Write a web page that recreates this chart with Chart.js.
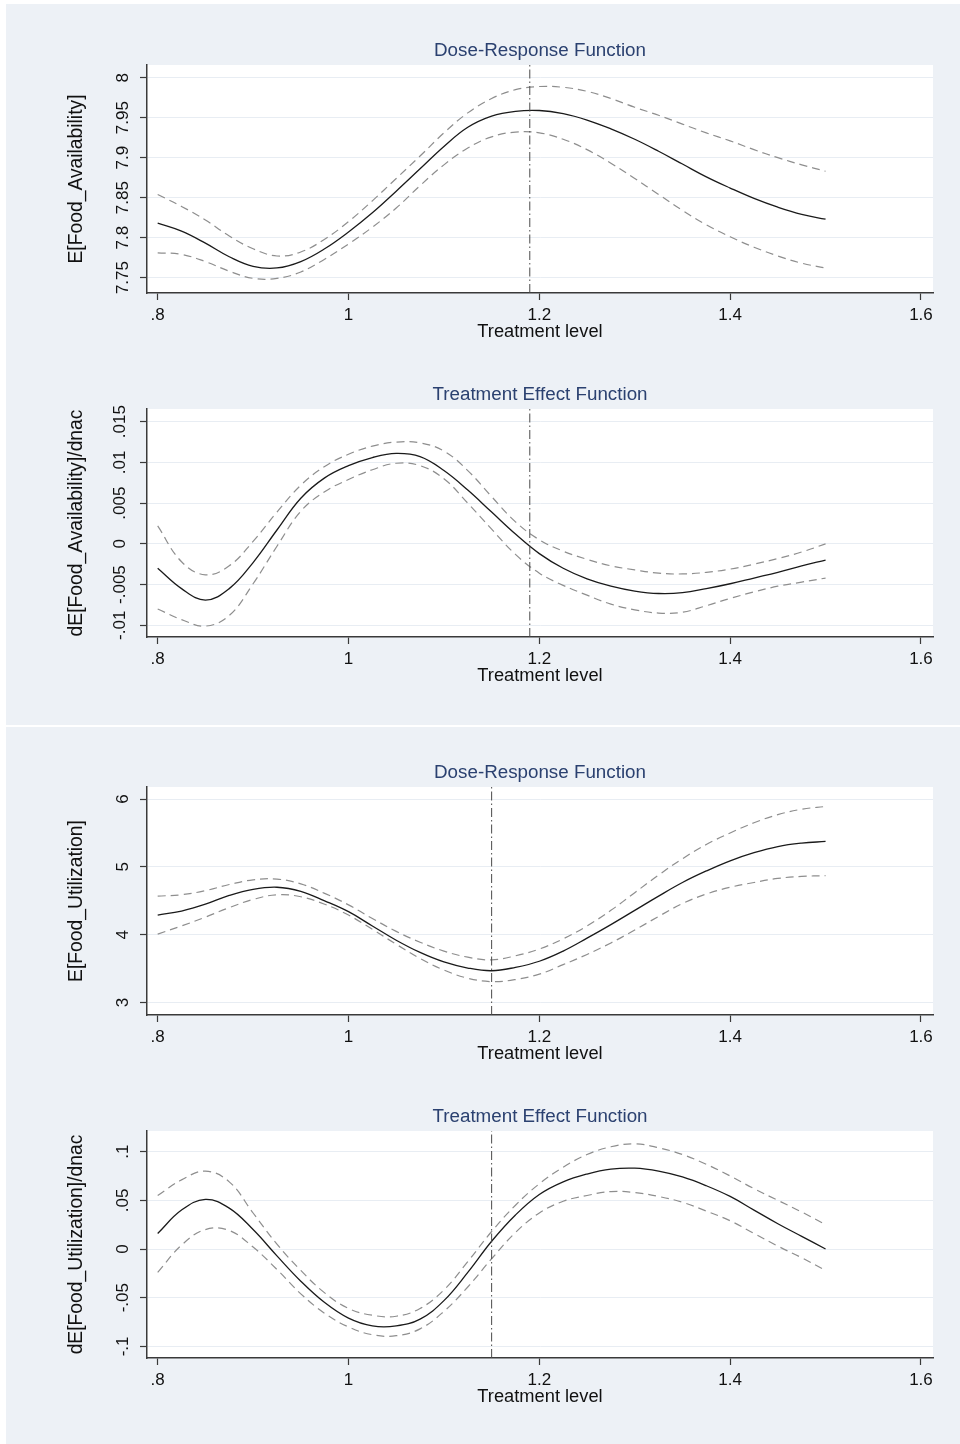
<!DOCTYPE html>
<html>
<head>
<meta charset="utf-8">
<script src="https://cdn.jsdelivr.net/npm/chart.js@4.4.1/dist/chart.umd.min.js"></script>
<style>
  html, body { margin: 0; padding: 0; background: #ffffff; width: 960px; height: 1444px; overflow: hidden; position: relative; }
  .bg { position: absolute; background: #edf1f6; }
  canvas { position: absolute; left: 0; }
</style>
</head>
<body>
<div class="bg" style="left:6px;top:4px;width:954px;height:721px"></div>
<div class="bg" style="left:6px;top:727px;width:954px;height:717px"></div>
<canvas id="c1" width="960" height="335" style="top:20px"></canvas>
<canvas id="c2" width="960" height="335" style="top:364px"></canvas>
<canvas id="c3" width="960" height="335" style="top:742px"></canvas>
<canvas id="c4" width="960" height="334" style="top:1086px"></canvas>
<script>
// ---------------- data ----------------
const treatment = [0.800, 0.825, 0.850, 0.875, 0.900, 0.925, 0.950, 0.975, 1.000, 1.025, 1.050, 1.075, 1.100, 1.125, 1.150,
                   1.175, 1.200, 1.225, 1.250, 1.275, 1.300, 1.325, 1.350, 1.375, 1.400, 1.425, 1.450, 1.475, 1.500];

// Food availability: dose-response
const faDoseMean  = [7.818, 7.808, 7.793, 7.776, 7.764, 7.762, 7.770, 7.786, 7.807, 7.831, 7.858, 7.886, 7.914, 7.938, 7.952,
                     7.958, 7.959, 7.955, 7.947, 7.936, 7.923, 7.908, 7.892, 7.876, 7.862, 7.849, 7.838, 7.829, 7.823];
const faDoseUpper = [7.854, 7.839, 7.822, 7.802, 7.786, 7.777, 7.782, 7.798, 7.820, 7.846, 7.874, 7.902, 7.931, 7.956, 7.974,
                     7.985, 7.989, 7.988, 7.983, 7.974, 7.963, 7.953, 7.942, 7.931, 7.921, 7.910, 7.900, 7.891, 7.883];
const faDoseLower = [7.781, 7.779, 7.770, 7.758, 7.749, 7.749, 7.757, 7.773, 7.792, 7.813, 7.837, 7.865, 7.891, 7.912, 7.926,
                     7.932, 7.931, 7.923, 7.910, 7.893, 7.874, 7.854, 7.834, 7.816, 7.801, 7.788, 7.777, 7.768, 7.762];

// Food availability: treatment effect
const faEffMean  = [-0.0030, -0.0055, -0.0069, -0.0055, -0.0023, 0.0017, 0.0056, 0.0081, 0.0096, 0.0106, 0.0111, 0.0107, 0.0090, 0.0066, 0.0039,
                    0.0012, -0.0012, -0.0030, -0.0043, -0.0052, -0.0058, -0.0061, -0.0060, -0.0055, -0.0049, -0.0042, -0.0035, -0.0027, -0.0020];
const faEffUpper = [0.0022, -0.0022, -0.0038, -0.0027, 0.0003, 0.0039, 0.0072, 0.0095, 0.0110, 0.0120, 0.0125, 0.0124, 0.0114, 0.0090, 0.0058,
                    0.0027, 0.0005, -0.0009, -0.0019, -0.0027, -0.0032, -0.0036, -0.0037, -0.0035, -0.0031, -0.0025, -0.0018, -0.0010, 0.0000];
const faEffLower = [-0.0080, -0.0093, -0.0101, -0.0088, -0.0049, -0.0003, 0.0040, 0.0064, 0.0079, 0.0091, 0.0099, 0.0096, 0.0080, 0.0050, 0.0018,
                    -0.0013, -0.0036, -0.0051, -0.0063, -0.0074, -0.0081, -0.0085, -0.0084, -0.0076, -0.0067, -0.0059, -0.0052, -0.0047, -0.0042];

// Food utilization: dose-response
const fuDoseMean  = [4.29, 4.35, 4.45, 4.58, 4.67, 4.70, 4.64, 4.50, 4.34, 4.13, 3.92, 3.74, 3.60, 3.51, 3.47,
                     3.52, 3.61, 3.76, 3.95, 4.15, 4.36, 4.57, 4.77, 4.94, 5.09, 5.21, 5.30, 5.35, 5.375];
const fuDoseUpper = [4.57, 4.59, 4.65, 4.74, 4.81, 4.82, 4.75, 4.61, 4.44, 4.24, 4.05, 3.89, 3.76, 3.67, 3.63,
                     3.69, 3.79, 3.94, 4.13, 4.36, 4.62, 4.88, 5.12, 5.33, 5.50, 5.65, 5.77, 5.85, 5.89];
const fuDoseLower = [4.01, 4.13, 4.26, 4.40, 4.52, 4.59, 4.56, 4.45, 4.29, 4.08, 3.86, 3.65, 3.48, 3.36, 3.31,
                     3.34, 3.42, 3.56, 3.71, 3.88, 4.07, 4.27, 4.46, 4.60, 4.70, 4.77, 4.83, 4.86, 4.87];

// Food utilization: treatment effect
const fuEffMean  = [0.016, 0.040, 0.051, 0.042, 0.020, -0.007, -0.033, -0.055, -0.071, -0.079, -0.079, -0.072, -0.053, -0.024, 0.008,
                    0.035, 0.056, 0.069, 0.077, 0.082, 0.083, 0.080, 0.074, 0.065, 0.054, 0.040, 0.026, 0.013, 0.000];
const fuEffUpper = [0.055, 0.071, 0.080, 0.069, 0.037, 0.005, -0.022, -0.045, -0.061, -0.068, -0.069, -0.061, -0.042, -0.013, 0.018,
                    0.045, 0.067, 0.084, 0.097, 0.105, 0.108, 0.104, 0.097, 0.087, 0.075, 0.062, 0.050, 0.038, 0.025];
const fuEffLower = [-0.024, 0.004, 0.020, 0.019, 0.002, -0.021, -0.046, -0.066, -0.080, -0.088, -0.089, -0.082, -0.064, -0.039, -0.010,
                    0.017, 0.037, 0.049, 0.055, 0.059, 0.058, 0.054, 0.048, 0.039, 0.029, 0.016, 0.003, -0.009, -0.022];

// ticks and labels
const xTicks = [0.8, 1.0, 1.2, 1.4, 1.6];
const xTickLabels = ['.8', '1', '1.2', '1.4', '1.6'];
const faDoseTicks = [7.75, 7.80, 7.85, 7.90, 7.95, 8.00];
const faDoseTickLabels = ['7.75', '7.8', '7.85', '7.9', '7.95', '8'];
const faEffTicks = [-0.01, -0.005, 0, 0.005, 0.01, 0.015];
const faEffTickLabels = ['-.01', '-.005', '0', '.005', '.01', '.015'];
const fuDoseTicks = [3, 4, 5, 6];
const fuDoseTickLabels = ['3', '4', '5', '6'];
const fuEffTicks = [-0.1, -0.05, 0, 0.05, 0.1];
const fuEffTickLabels = ['-.1', '-.05', '0', '.05', '.1'];

const panelTitles = ['Dose-Response Function', 'Treatment Effect Function', 'Dose-Response Function', 'Treatment Effect Function'];
const yTitles = ['E[Food_Availability]', 'dE[Food_Availability]/dnac', 'E[Food_Utilization]', 'dE[Food_Utilization]/dnac'];
const xTitle = 'Treatment level';
const optimalLevels = [1.19, 1.19, 1.15, 1.15];

// ---------------- styling ----------------
const FAMILY = "'Liberation Sans', Arial, Helvetica, sans-serif";
const TICK_SIZE = 17;
const AXIS_COLOR = '#3a3a3a';
const GRID_COLOR = '#e8edf3';
const TITLE_COLOR = '#2b4170';

const panelPlugin = {
  id: 'panel',
  beforeDraw(chart) {
    const { ctx, chartArea: a } = chart;
    ctx.save();
    ctx.fillStyle = '#ffffff';
    ctx.fillRect(a.left, a.top, a.right - a.left, a.bottom - a.top);
    ctx.restore();
  },
  afterDraw(chart, args, opts) {
    const { ctx, chartArea: a } = chart;
    ctx.save();
    ctx.font = `18.8px ${FAMILY}`;
    ctx.fillStyle = TITLE_COLOR;
    ctx.textAlign = 'center';
    ctx.textBaseline = 'middle';
    ctx.fillText(opts.text, (a.left + a.right) / 2, a.top - 14);
    ctx.restore();
  }
};

const measureCtx = document.createElement('canvas').getContext('2d');
function widest(labels) {
  measureCtx.font = `${TICK_SIZE}px ${FAMILY}`;
  return Math.max(...labels.map(l => measureCtx.measureText(l).width));
}

function makePanel(id, idx, mean, upper, lower, yMin, yMax, yTicks, yTickLabels) {
  const pts = arr => treatment.map((t, i) => ({ x: t, y: arr[i] }));
  const yPad = Math.max(0, 147 - 7 - 123 - widest(yTickLabels) / 2);
  new Chart(document.getElementById(id), {
    type: 'line',
    data: {
      datasets: [
        { data: [{ x: optimalLevels[idx], y: yMin }, { x: optimalLevels[idx], y: yMax }],
          borderColor: '#4a4a4a', borderWidth: 1, borderDash: [9, 3, 1.5, 3], pointRadius: 0, tension: 0 },
        { data: pts(upper), borderColor: '#8e8e8e', borderWidth: 1.2, borderDash: [8, 5], pointRadius: 0, tension: 0.4 },
        { data: pts(lower), borderColor: '#8e8e8e', borderWidth: 1.2, borderDash: [8, 5], pointRadius: 0, tension: 0.4 },
        { data: pts(mean), borderColor: '#1a1a1a', borderWidth: 1.3, pointRadius: 0, tension: 0.4 }
      ]
    },
    options: {
      responsive: false,
      animation: false,
      events: [],
      layout: { padding: { left: 0, right: 27, top: 45, bottom: 0 } },
      plugins: { legend: { display: false }, tooltip: { enabled: false }, panel: { text: panelTitles[idx] } },
      scales: {
        x: {
          type: 'linear',
          min: 0.7888, max: 1.6126,
          afterBuildTicks: s => { s.ticks = xTicks.map(v => ({ value: v })); },
          afterFit: s => { s.height = 62; },
          ticks: {
            autoSkip: false, maxRotation: 0, padding: 5, color: '#111',
            font: { family: FAMILY, size: TICK_SIZE },
            callback: v => xTickLabels[xTicks.findIndex(t => Math.abs(t - v) < 1e-9)]
          },
          grid: { drawOnChartArea: false, drawTicks: true, tickLength: 7, tickColor: AXIS_COLOR, tickWidth: 1.2 },
          border: { display: true, color: AXIS_COLOR, width: 1.5 },
          title: { display: true, text: xTitle, color: '#111', font: { family: FAMILY, size: 18.3 }, padding: { top: 0, bottom: 12 } }
        },
        y: {
          type: 'linear',
          min: yMin, max: yMax,
          afterBuildTicks: s => { s.ticks = yTicks.map(v => ({ value: v })); },
          afterFit: s => { s.width = 147; },
          ticks: {
            autoSkip: false, minRotation: 90, maxRotation: 90, crossAlign: 'center', padding: yPad, color: '#111',
            font: { family: FAMILY, size: TICK_SIZE },
            callback: v => yTickLabels[yTicks.findIndex(t => Math.abs(t - v) < 1e-9)]
          },
          grid: { drawOnChartArea: true, color: GRID_COLOR, lineWidth: 1, drawTicks: true, tickLength: 7, tickColor: AXIS_COLOR, tickWidth: 1.2 },
          border: { display: true, color: AXIS_COLOR, width: 1.5 },
          title: { display: true, text: yTitles[idx], color: '#111', font: { family: FAMILY, size: 19.3 }, padding: { top: 65.5, bottom: 0 } }
        }
      }
    },
    plugins: [panelPlugin]
  });
}

makePanel('c1', 0, faDoseMean, faDoseUpper, faDoseLower, 7.7307, 8.0159, faDoseTicks, faDoseTickLabels);
makePanel('c2', 1, faEffMean, faEffUpper, faEffLower, -0.01144, 0.01656, faEffTicks, faEffTickLabels);
makePanel('c3', 2, fuDoseMean, fuDoseUpper, fuDoseLower, 2.818, 6.177, fuDoseTicks, fuDoseTickLabels);
makePanel('c4', 3, fuEffMean, fuEffUpper, fuEffLower, -0.1119, 0.1212, fuEffTicks, fuEffTickLabels);
</script>
</body>
</html>
